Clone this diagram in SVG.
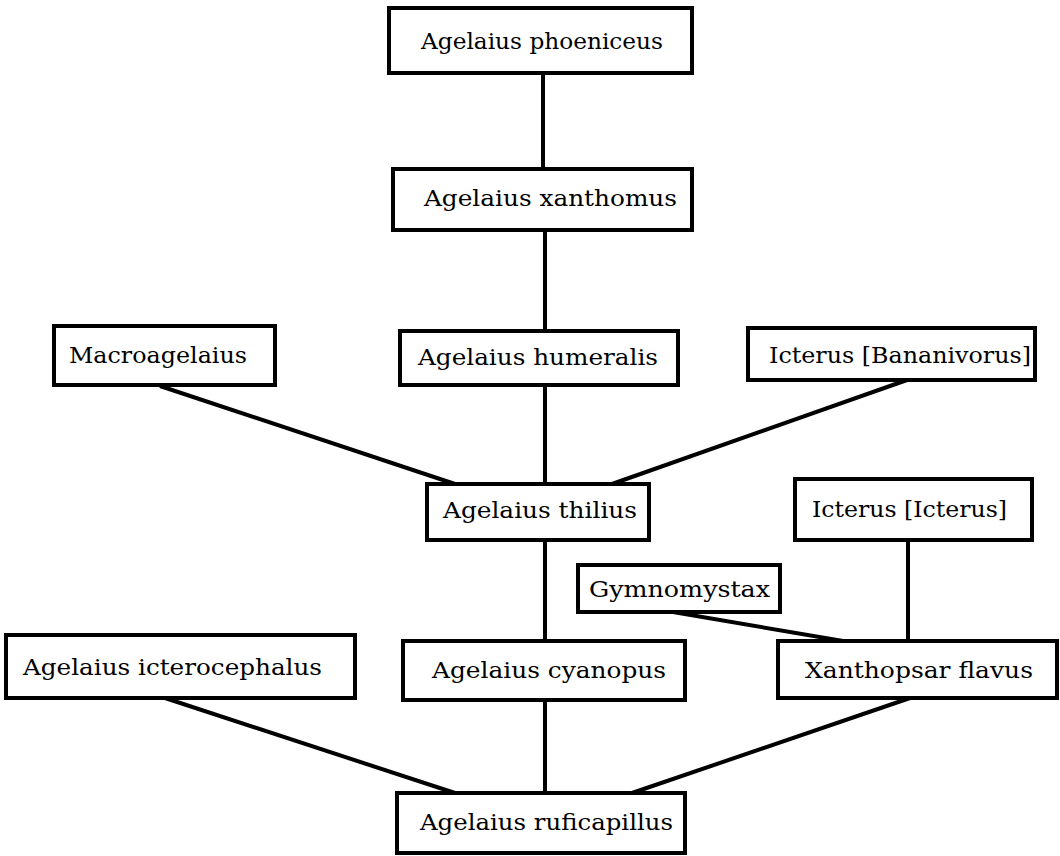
<svg xmlns="http://www.w3.org/2000/svg" width="1060" height="856" viewBox="0 0 1060 856">
<style>
rect{fill:#fff;stroke:#000;stroke-width:4}
text{font-family:"DejaVu Serif",serif;font-size:23px;fill:#000}
#edges line{stroke:#000;stroke-width:4}
</style>
<rect x="0" y="0" width="1060" height="856" style="stroke:none"/>
<g id="edges">
<line x1="543" y1="74" x2="543" y2="170"/>
<line x1="545" y1="230" x2="545" y2="331"/>
<line x1="545" y1="385" x2="545" y2="484"/>
<line x1="160" y1="386" x2="455" y2="484"/>
<line x1="907" y1="380" x2="612" y2="484"/>
<line x1="545" y1="540" x2="545" y2="641"/>
<line x1="908" y1="540" x2="908" y2="641"/>
<line x1="673" y1="612" x2="843" y2="641"/>
<line x1="165" y1="698" x2="455" y2="793"/>
<line x1="545" y1="700" x2="545" y2="793"/>
<line x1="910" y1="698" x2="632" y2="793"/>
</g>
<g id="n1"><rect x="389" y="8" width="303" height="65"/><text x="421" y="49" textLength="242" lengthAdjust="spacingAndGlyphs">Agelaius phoeniceus</text></g>
<g id="n2"><rect x="393" y="169" width="299" height="61"/><text x="424" y="206" textLength="253" lengthAdjust="spacingAndGlyphs">Agelaius xanthomus</text></g>
<g id="n3"><rect x="400" y="331" width="278" height="54"/><text x="418" y="365" textLength="240" lengthAdjust="spacingAndGlyphs">Agelaius humeralis</text></g>
<g id="n4"><rect x="54" y="326" width="221" height="59"/><text x="69" y="363" textLength="178" lengthAdjust="spacingAndGlyphs">Macroagelaius</text></g>
<g id="n5"><rect x="748" y="328" width="287" height="52"/><text x="769" y="363" textLength="262" lengthAdjust="spacingAndGlyphs">Icterus [Bananivorus]</text></g>
<g id="n6"><rect x="427" y="484" width="222" height="56"/><text x="443" y="518" textLength="194" lengthAdjust="spacingAndGlyphs">Agelaius thilius</text></g>
<g id="n7"><rect x="795" y="479" width="237" height="61"/><text x="812" y="517" textLength="195" lengthAdjust="spacingAndGlyphs">Icterus [Icterus]</text></g>
<g id="n8"><rect x="578" y="565" width="202" height="47"/><text x="589" y="597" textLength="181" lengthAdjust="spacingAndGlyphs">Gymnomystax</text></g>
<g id="n9"><rect x="6" y="635" width="349" height="63"/><text x="23" y="675" textLength="299" lengthAdjust="spacingAndGlyphs">Agelaius icterocephalus</text></g>
<g id="n10"><rect x="403" y="641" width="282" height="59"/><text x="432" y="678" textLength="234" lengthAdjust="spacingAndGlyphs">Agelaius cyanopus</text></g>
<g id="n11"><rect x="778" y="641" width="279" height="57"/><text x="805" y="678" textLength="228" lengthAdjust="spacingAndGlyphs">Xanthopsar flavus</text></g>
<g id="n12"><rect x="397" y="793" width="288" height="60"/><text x="420" y="830" textLength="253" lengthAdjust="spacingAndGlyphs">Agelaius ruficapillus</text></g>
</svg>
